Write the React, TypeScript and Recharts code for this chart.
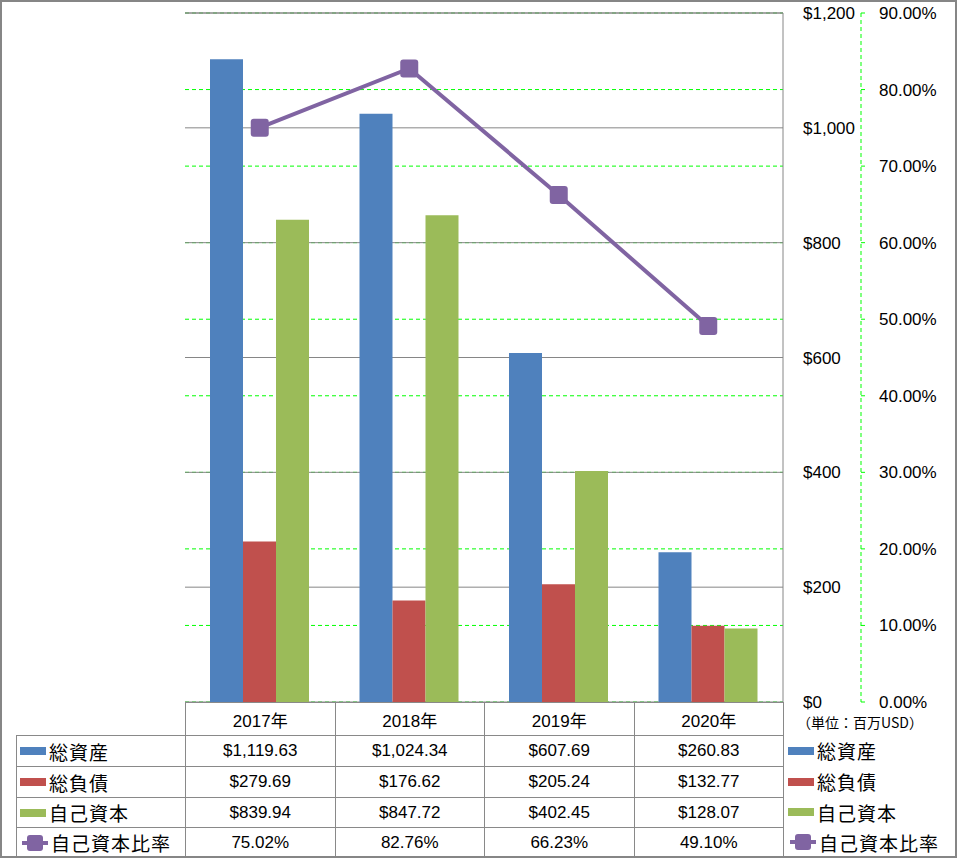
import React from "react";
import { ComposedChart, Bar, Line, XAxis, YAxis, CartesianGrid, ReferenceLine } from "recharts";

const years = ["2017年", "2018年", "2019年", "2020年"];
const totalAssets = [1119.63, 1024.34, 607.69, 260.83];
const totalLiabilities = [279.69, 176.62, 205.24, 132.77];
const equity = [839.94, 847.72, 402.45, 128.07];
const equityRatio = [75.02, 82.76, 66.23, 49.1];
const seriesNames = ["総資産", "総負債", "自己資本", "自己資本比率"];
const usdTicks = [0, 200, 400, 600, 800, 1000, 1200];
const pctTicks = [0, 10, 20, 30, 40, 50, 60, 70, 80, 90];
const unitLabel = "（単位：百万USD）";

const colors = ["#4F81BD", "#C0504D", "#9BBB59", "#8064A2"];
const border = "#898989";
const font = "'Liberation Sans', 'Noto Sans CJK JP', sans-serif";
const jpFont = "'Noto Sans CJK JP', sans-serif";

const data = years.map((year, i) => ({
  year,
  assets: totalAssets[i],
  liabilities: totalLiabilities[i],
  equity: equity[i],
  ratio: equityRatio[i],
}));

const fmtUsd = (v: number) =>
  "$" + v.toLocaleString("en-US", { minimumFractionDigits: 2, maximumFractionDigits: 2 });
const fmtPct = (v: number) => v.toFixed(2) + "%";

const rows = [
  totalAssets.map(fmtUsd),
  totalLiabilities.map(fmtUsd),
  equity.map(fmtUsd),
  equityRatio.map(fmtPct),
];

// layout of the data table under the plot
const colX = [185, 334.5, 484, 633.5, 783];
const rowY = [735, 766, 797, 827, 857];

const USD = "a-usd";
const PCT = "b-pct";

const SquareDot = (props: any) => {
  const { cx, cy, index } = props;
  return (
    <rect key={"d" + index} x={cx - 9} y={cy - 9} width={18} height={18} rx={3} fill={colors[3]} />
  );
};

const Key = ({ i }: { i: number }) =>
  i < 3 ? (
    <div style={{ width: 26, height: 8, background: colors[i], marginRight: 3 }} />
  ) : (
    <svg width={30} height={18} style={{ marginRight: 1 }}>
      <line x1={2} y1={9} x2={28} y2={9} stroke={colors[3]} strokeWidth={4} />
      <rect x={7} y={1} width={16} height={16} rx={3} fill={colors[3]} />
    </svg>
  );

const LegendItem = ({ i, x, y }: { i: number; x: number; y: number }) => (
  <div
    style={{
      position: "absolute",
      left: x,
      top: y,
      height: 30,
      display: "flex",
      alignItems: "center",
      fontFamily: jpFont,
      fontSize: 19,
      letterSpacing: 1,
      whiteSpace: "nowrap",
    }}
  >
    <Key i={i} />
    <span>{seriesNames[i]}</span>
  </div>
);

const cellStyle = (left: number, top: number, w: number, h: number): React.CSSProperties => ({
  position: "absolute",
  left,
  top,
  width: w + 1,
  height: h + 1,
  boxSizing: "border-box",
  border: `1px solid ${border}`,
  display: "flex",
  alignItems: "center",
  justifyContent: "center",
  fontFamily: font,
  fontSize: 17,
});

export default function App() {
  return (
    <div
      style={{
        position: "absolute",
        left: 0,
        top: 0,
        width: 957,
        height: 858,
        background: "#fff",
        fontFamily: font,
        color: "#000",
      }}
    >
      <ComposedChart
        width={957}
        height={720}
        data={data}
        margin={{ top: 13, left: 185, right: 16, bottom: 18 }}
        barGap={0}
        barSize={33}
      >
        <CartesianGrid yAxisId={PCT} vertical={false} stroke="#00FF00" strokeDasharray="4 3" />
        <CartesianGrid yAxisId={USD} vertical={false} stroke="#868686" />
        <XAxis dataKey="year" hide height={0} />
        <YAxis
          yAxisId={USD}
          orientation="right"
          width={78}
          domain={[0, 1200]}
          ticks={usdTicks}
          interval={0}
          tickFormatter={(v: number) => "$" + v.toLocaleString("en-US")}
          axisLine={{ stroke: "#868686" }}
          tickLine={false}
          tickSize={0}
          tickMargin={20}
          tick={{ fill: "#000", fontSize: 17, fontFamily: font }}
        />
        <YAxis
          yAxisId={PCT}
          orientation="right"
          width={80}
          domain={[0, 90]}
          ticks={pctTicks}
          interval={0}
          tickFormatter={fmtPct}
          axisLine={{ stroke: "#00FF00", strokeDasharray: "4 3" }}
          tickLine={{ stroke: "#00FF00" }}
          tickSize={4}
          tickMargin={14}
          tick={{ fill: "#000", fontSize: 17, fontFamily: font }}
        />
        <ReferenceLine yAxisId={USD} y={usdTicks[usdTicks.length - 1]} stroke="#868686" />
        <Bar yAxisId={USD} dataKey="assets" name={seriesNames[0]} fill={colors[0]} isAnimationActive={false} />
        <Bar yAxisId={USD} dataKey="liabilities" name={seriesNames[1]} fill={colors[1]} isAnimationActive={false} />
        <Bar yAxisId={USD} dataKey="equity" name={seriesNames[2]} fill={colors[2]} isAnimationActive={false} />
        <Line
          yAxisId={PCT}
          dataKey="ratio"
          name={seriesNames[3]}
          stroke={colors[3]}
          strokeWidth={4}
          dot={SquareDot}
          activeDot={false}
          isAnimationActive={false}
        />
      </ComposedChart>

      {/* header row with years */}
      {years.map((y, c) => (
        <div key={"h" + c} style={cellStyle(colX[c], 702, colX[c + 1] - colX[c], rowY[0] - 702)}>
          {y}
        </div>
      ))}

      {/* data rows */}
      {rows.map((vals, r) => (
        <React.Fragment key={"r" + r}>
          <div
            style={{
              ...cellStyle(16, rowY[r], colX[0] - 16, rowY[r + 1] - rowY[r]),
              justifyContent: "flex-start",
              paddingLeft: 3,
            }}
          >
            <Key i={r} />
            <span style={{ fontFamily: jpFont, fontSize: 19, letterSpacing: 1 }}>{seriesNames[r]}</span>
          </div>
          {vals.map((v, c) => (
            <div
              key={"c" + r + c}
              style={cellStyle(colX[c], rowY[r], colX[c + 1] - colX[c], rowY[r + 1] - rowY[r])}
            >
              {v}
            </div>
          ))}
          <LegendItem i={r} x={788} y={rowY[r] + (rowY[r + 1] - rowY[r]) / 2 - 15} />
        </React.Fragment>
      ))}

      <div
        style={{
          position: "absolute",
          left: 797,
          top: 715,
          fontFamily: jpFont,
          fontSize: 14,
          lineHeight: "14px",
          whiteSpace: "nowrap",
        }}
      >
        {unitLabel}
      </div>

      {/* outer frame */}
      <div
        style={{
          position: "absolute",
          left: 0,
          top: 0,
          width: 957,
          height: 858,
          boxSizing: "border-box",
          border: "2px solid #868686",
          pointerEvents: "none",
        }}
      />
    </div>
  );
}
